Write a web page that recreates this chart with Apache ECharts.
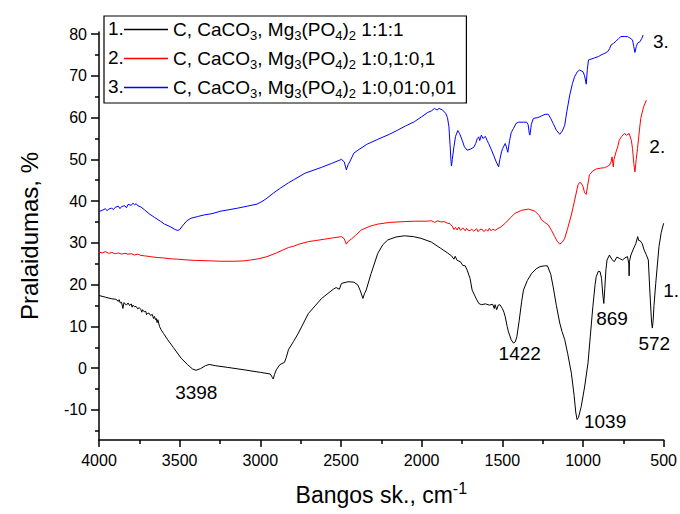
<!DOCTYPE html>
<html><head><meta charset="utf-8">
<script src="https://cdn.jsdelivr.net/npm/echarts@6/dist/echarts.min.js"></script>
<style>html,body{margin:0;padding:0;background:#fff}#c{width:680px;height:514px}</style>
</head><body><div id="c"></div>
<script>
// ---- data (wavenumber cm^-1, transmittance %) ----
const seriesNames = [
  'C, CaCO{sub|3}, Mg{sub|3}(PO{sub|4}){sub|2} 1:1:1',
  'C, CaCO{sub|3}, Mg{sub|3}(PO{sub|4}){sub|2} 1:0,1:0,1',
  'C, CaCO{sub|3}, Mg{sub|3}(PO{sub|4}){sub|2} 1:0,01:0,01'
];
const seriesNumbers = ['1.', '2.', '3.'];
const xTicks = [4000, 3500, 3000, 2500, 2000, 1500, 1000, 500];
const yTicks = [-10, 0, 10, 20, 30, 40, 50, 60, 70, 80];
const peakLabels = ['3398', '1422', '1039', '869', '572'];

const black = [[4000,17.4],[3960,17.0],[3920,16.6],[3895,16.5],[3880,16.0],[3875,16.4],[3868,15.6],[3860,15.8],[3852,14.3],[3845,15.7],[3830,15.1],[3820,15.6],[3810,15.0],[3800,15.4],[3795,14.6],[3790,15.1],[3780,14.7],[3770,14.8],[3760,14.2],[3750,14.5],[3740,14.0],[3735,13.4],[3730,14.0],[3720,13.5],[3710,13.6],[3705,12.8],[3700,13.1],[3690,13.2],[3680,12.6],[3670,12.9],[3662,11.9],[3656,12.4],[3650,11.6],[3645,11.9],[3640,10.9],[3635,11.6],[3625,10.0],[3615,9.2],[3600,8.3],[3574,6.8],[3540,5.0],[3491,2.4],[3450,0.8],[3420,-0.2],[3398,-0.5],[3370,-0.1],[3340,0.6],[3317,0.9],[3280,0.6],[3205,0.2],[3100,-0.4],[3000,-1.0],[2938,-1.4],[2926,-2.2],[2920,-2.6],[2912,-1.5],[2901,-0.4],[2880,0.8],[2866,1.1],[2850,1.4],[2840,2.5],[2825,4.5],[2794,6.4],[2764,8.4],[2702,13.1],[2620,16.7],[2548,18.9],[2530,19.3],[2510,18.9],[2497,20.3],[2456,20.7],[2420,20.6],[2395,19.9],[2380,18.5],[2364,16.7],[2355,17.8],[2344,18.7],[2313,22.7],[2272,27.5],[2240,29.6],[2210,30.7],[2160,31.4],[2107,31.7],[2050,31.5],[2005,31.1],[1940,30.2],[1882,28.7],[1840,27.6],[1815,26.9],[1800,26.1],[1792,26.8],[1780,25.8],[1760,25.5],[1745,24.6],[1730,24.5],[1718,23.5],[1700,21.5],[1687,18.7],[1670,17.3],[1660,16.5],[1646,15.5],[1630,15.2],[1605,15.4],[1580,15.1],[1560,15.3],[1550,14.3],[1545,15.2],[1535,14.0],[1525,15.1],[1515,15.2],[1500,14.3],[1490,13.4],[1482,12.3],[1470,10.0],[1462,8.7],[1445,6.8],[1431,6.0],[1420,6.3],[1410,7.5],[1395,11.5],[1380,16.0],[1369,18.7],[1345,21.0],[1318,22.7],[1290,23.8],[1267,24.3],[1240,24.5],[1220,24.5],[1200,22.5],[1185,19.5],[1165,15.0],[1144,10.8],[1130,8.8],[1113,6.8],[1095,3.5],[1072,-1.2],[1055,-6.5],[1045,-10.5],[1037,-12.3],[1028,-11.8],[1011,-9.2],[990,-4.5],[969,1.2],[955,7.5],[939,14.7],[925,20.0],[918,21.9],[905,23.2],[894,23.1],[885,21.5],[877,17.5],[871,15.5],[865,19.0],[858,23.5],[851,25.9],[836,27.1],[820,26.0],[806,25.5],[790,26.6],[775,26.3],[755,25.9],[740,26.4],[724,26.7],[716,25.0],[714,22.1],[712,25.5],[703,27.1],[690,28.3],[672,29.9],[661,31.5],[655,30.6],[645,30.5],[633,29.8],[621,28.3],[608,27.2],[595,25.9],[585,18.0],[575,11.0],[570,9.6],[565,11.5],[560,15.0],[549,20.3],[529,29.1],[515,32.5],[500,34.7]];

const red = [[4000,27.8],[3980,27.6],[3960,27.9],[3940,27.5],[3920,27.7],[3900,27.4],[3880,27.6],[3860,27.3],[3840,27.5],[3820,27.3],[3800,27.4],[3780,27.1],[3760,27.3],[3740,27.0],[3717,26.9],[3680,26.7],[3640,26.5],[3600,26.4],[3560,26.2],[3512,26.1],[3450,25.9],[3400,25.8],[3307,25.7],[3250,25.6],[3163,25.6],[3100,25.7],[3061,25.9],[3010,26.2],[2959,26.7],[2900,27.6],[2860,28.3],[2825,28.9],[2794,29.2],[2760,29.7],[2702,30.3],[2650,30.6],[2600,30.9],[2550,31.2],[2497,31.5],[2480,31.0],[2467,29.7],[2455,30.4],[2436,30.9],[2410,31.8],[2374,33.1],[2320,34.0],[2272,34.5],[2200,34.9],[2107,35.1],[2040,35.2],[1964,35.2],[1940,35.3],[1920,34.9],[1900,35.3],[1880,35.0],[1861,35.1],[1840,34.7],[1825,34.6],[1810,34.0],[1800,33.2],[1790,33.7],[1780,33.1],[1770,33.8],[1759,33.0],[1745,33.6],[1730,32.9],[1722,33.5],[1715,33.1],[1700,32.9],[1690,33.3],[1677,32.8],[1660,33.4],[1650,32.7],[1640,33.2],[1626,33.3],[1615,32.7],[1600,33.2],[1590,32.8],[1580,33.5],[1570,32.9],[1560,33.3],[1545,33.0],[1533,33.3],[1510,33.8],[1482,34.7],[1450,36.0],[1421,37.1],[1380,37.8],[1338,38.1],[1298,37.6],[1270,36.5],[1257,35.5],[1240,35.0],[1215,34.3],[1195,33.0],[1175,31.5],[1160,30.4],[1144,29.7],[1128,30.2],[1113,31.1],[1095,33.5],[1072,36.7],[1050,40.5],[1031,43.9],[1020,44.5],[1011,44.3],[1000,43.5],[990,42.0],[980,41.6],[972,43.5],[960,46.3],[940,47.2],[918,47.7],[890,47.9],[867,48.0],[850,48.3],[836,48.6],[825,49.5],[820,50.6],[815,49.0],[812,48.2],[808,50.0],[795,51.8],[785,53.0],[775,54.6],[760,55.5],[744,56.2],[730,55.8],[714,56.2],[700,54.5],[693,52.6],[685,49.0],[678,47.0],[670,50.0],[662,52.6],[650,57.0],[642,59.8],[625,62.5],[607,64.2]];

const blue = [[4000,37.5],[3980,37.8],[3960,38.2],[3950,37.7],[3940,38.1],[3922,38.3],[3910,38.0],[3900,38.5],[3880,38.8],[3870,38.2],[3860,38.7],[3840,38.9],[3830,38.4],[3820,39.2],[3800,39.0],[3790,39.5],[3779,39.1],[3770,39.4],[3760,38.9],[3740,38.6],[3717,37.9],[3690,37.0],[3656,36.1],[3620,35.2],[3594,34.5],[3560,33.9],[3533,33.3],[3515,33.0],[3502,33.1],[3480,34.2],[3455,35.3],[3430,35.9],[3390,36.3],[3348,36.7],[3300,37.0],[3245,37.6],[3200,37.9],[3143,38.3],[3080,38.8],[3020,39.3],[2990,39.9],[2959,40.7],[2920,41.9],[2876,43.1],[2825,44.4],[2794,45.1],[2722,46.7],[2620,48.1],[2560,49.0],[2497,50.0],[2480,49.4],[2467,47.5],[2456,48.7],[2446,49.4],[2420,51.5],[2395,52.2],[2340,53.6],[2272,54.8],[2200,56.0],[2149,57.0],[2100,58.0],[2046,59.0],[2000,60.2],[1964,61.2],[1940,61.6],[1920,62.2],[1905,61.8],[1892,62.2],[1870,61.8],[1851,61.0],[1840,60.0],[1831,57.8],[1824,53.5],[1818,49.5],[1815,48.4],[1810,50.0],[1800,53.0],[1790,55.5],[1776,56.9],[1765,56.2],[1749,54.6],[1735,53.0],[1718,52.2],[1700,52.4],[1677,52.9],[1665,53.8],[1655,55.0],[1646,55.4],[1640,54.5],[1630,55.8],[1620,55.0],[1605,55.5],[1595,54.6],[1585,53.8],[1570,52.5],[1554,51.0],[1540,49.6],[1523,48.2],[1515,50.0],[1505,51.8],[1498,52.6],[1482,53.8],[1475,53.0],[1466,51.7],[1455,54.5],[1445,56.4],[1431,57.4],[1415,58.6],[1400,58.9],[1370,58.9],[1349,58.9],[1340,58.3],[1332,56.0],[1329,55.8],[1320,58.4],[1308,59.8],[1280,60.0],[1257,60.4],[1235,60.8],[1215,60.8],[1200,59.8],[1185,58.6],[1165,57.0],[1144,56.0],[1128,56.8],[1113,58.2],[1100,61.5],[1082,65.4],[1065,68.2],[1052,69.8],[1035,71.0],[1021,71.4],[1000,71.0],[990,70.0],[980,68.0],[973,71.5],[966,73.8],[950,74.0],[929,74.3],[905,74.6],[888,75.0],[865,75.4],[847,75.8],[835,76.5],[826,77.4],[810,77.8],[795,78.3],[780,78.9],[765,79.4],[745,79.4],[724,79.4],[710,79.1],[693,78.6],[685,77.0],[678,75.6],[670,77.0],[662,77.8],[646,78.2],[635,79.0],[627,79.8]];

// ---- annotation anchors (data coords of label centres) ----
const peakAnchors = [[3397,-5.9],[1392,3.6],[863,-12.7],[820,12.0],[558,5.8]];
const endAnchors = [[506,18.7],[592,53.0],[569,78.3]];

const FONT = 'Liberation Sans, Arial, sans-serif';
const colors = ['#000000', '#ff0000', '#0000ff'];
const datasets = [black, red, blue];

const chart = echarts.init(document.getElementById('c'), null, {renderer: 'svg'});

const series = datasets.map((d, i) => {
  const mp = [{coord: endAnchors[i], name: seriesNumbers[i], label: {position: 'right', distance: 0}}];
  if (i === 0) {
    peakLabels.forEach((p, k) => mp.push({coord: peakAnchors[k], name: p, label: {position: 'inside'}}));
  }
  return {
    type: 'line',
    name: seriesNames[i],
    data: d,
    symbol: 'none',
    showSymbol: false,
    lineStyle: {color: colors[i], width: 1},
    itemStyle: {color: colors[i]},
    z: 3 - i,
    markPoint: {
      symbol: 'circle', symbolSize: 1,
      itemStyle: {color: 'rgba(0,0,0,0)'},
      label: {show: true, formatter: '{b}', color: '#000', fontSize: 19, fontFamily: FONT},
      data: mp
    }
  };
});

const option = {
  animation: false,
  backgroundColor: '#ffffff',
  textStyle: {fontFamily: FONT},
  grid: {left: 99, right: 12, top: 32, bottom: 74},
  legend: {
    left: 104, top: 16, orient: 'vertical',
    padding: [1, 10, 3, 20],
    borderColor: '#000', borderWidth: 1.2,
    icon: 'rect', itemWidth: 44, itemHeight: 1.3, itemGap: 4,
    data: seriesNames,
    textStyle: {
      fontSize: 19, color: '#000', fontFamily: FONT,
      rich: {sub: {fontSize: 13, fontFamily: FONT, color: '#000', lineHeight: 13, padding: [12, 0, 0, 0]}}
    }
  },
  graphic: seriesNumbers.map((n, i) => ({
    type: 'text', left: 108, top: 19 + i * 29,
    style: {text: n, fontSize: 19, fill: '#000', fontFamily: FONT}
  })),
  xAxis: {
    type: 'value', inverse: true, min: 500, max: 4000, interval: 500,
    name: 'Bangos sk., cm{sup|-1}', nameLocation: 'middle', nameGap: 43,
    nameTextStyle: {fontSize: 23, color: '#000', fontFamily: FONT,
      rich: {sup: {fontSize: 16, color: '#000', fontFamily: FONT, lineHeight: 16, padding: [0, 0, 12, 0]}}},
    axisLine: {show: true, onZero: false, lineStyle: {color: '#000', width: 1.5}},
    axisTick: {show: true, length: 7, customValues: xTicks, lineStyle: {color: '#000', width: 1.5}},
    minorTick: {show: true, splitNumber: 2, length: 4, lineStyle: {color: '#000', width: 1.5}},
    axisLabel: {customValues: xTicks, formatter: v => String(v), fontSize: 16, color: '#000', margin: 12, fontFamily: FONT},
    splitLine: {show: false}
  },
  yAxis: {
    type: 'value', min: -17.2, max: 80.5, splitNumber: 10,
    name: 'Pralaidumas, %', nameLocation: 'middle', nameGap: 58,
    nameTextStyle: {fontSize: 24, color: '#000', fontFamily: FONT},
    axisLine: {show: true, onZero: false, lineStyle: {color: '#000', width: 1.5}},
    axisTick: {show: true, length: 8, customValues: yTicks, lineStyle: {color: '#000', width: 1.5}},
    minorTick: {show: true, splitNumber: 2, length: 4, lineStyle: {color: '#000', width: 1.5}},
    axisLabel: {customValues: yTicks, formatter: v => String(v), fontSize: 16, color: '#000', margin: 12, fontFamily: FONT},
    splitLine: {show: false}
  },
  series: series
};
chart.setOption(option);
</script>
</body></html>
